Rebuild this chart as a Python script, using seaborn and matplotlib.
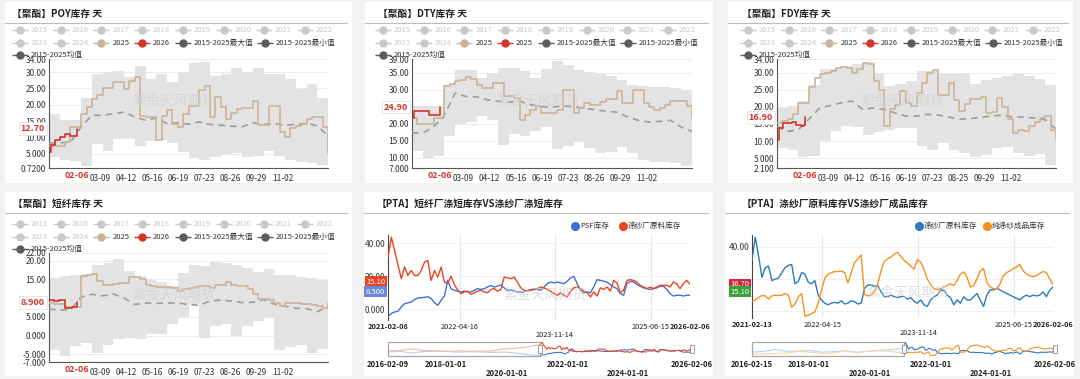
import numpy as np
import pandas as pd
import matplotlib
matplotlib.use('Agg')
import matplotlib.pyplot as plt
import matplotlib.dates as mdates
from matplotlib.patches import Rectangle
import seaborn as sns

# ======================= DATA =======================
# seasonal panels: 2015-2025 envelope / mean (bi-weekly), 2025 (weekly), 2026 (to 02-06)
poy_max = [17.3, 15.3, 15.3, 22.0, 29.4, 30.0, 30.4, 28.5, 31.9, 28.0, 29.5, 27.0, 30.0, 32.9,
           33.1, 28.8, 29.4, 31.4, 29.9, 31.4, 29.5, 29.4, 27.9, 24.9, 26.4, 22.0, 18.8]
poy_min = [4.2, 3.2, 3.0, 1.2, 8.0, 6.0, 9.5, 9.8, 7.3, 9.0, 9.3, 8.5, 5.5, 3.7,
           3.2, 4.2, 5.0, 5.2, 4.0, 4.5, 5.8, 4.5, 3.2, 2.7, 2.2, 1.5, 3.0]
poy_mean = [8.3, 8.5, 8.5, 13.3, 16.8, 16.8, 17.3, 17.8, 16.3, 15.3, 16.0, 14.3, 14.5, 14.1,
            14.8, 14.0, 13.8, 13.5, 13.3, 14.5, 14.0, 14.3, 13.8, 14.0, 14.4, 13.6, 10.5]
poy_2025 = [7.5, 7.3, 7.3, 8.8, 13.3, 13.3, 17.3, 19.3, 21.9, 22.9, 25.2, 25.2, 27.1, 27.1,
            24.9, 27.4, 28.4, 16.5, 16.3, 16.3, 9.3, 16.5, 18.3, 14.3, 13.3, 17.3, 19.8, 19.8,
            24.4, 25.7, 16.3, 22.4, 19.3, 15.8, 17.5, 18.6, 19.1, 19.1, 21.3, 13.8, 13.8, 19.8,
            19.8, 11.8, 10.3, 12.8, 13.5, 14.3, 15.6, 16.3, 16.3, 13.3, 5.0]
poy_2026_dates = ['01-01', '01-03', '01-09', '01-16', '01-22', '01-29', '02-05', '02-06']
poy_2026 = [5.7, 7.8, 9.3, 10.3, 11.1, 10.5, 10.5, 12.7]

dty_max = [25.3, 25.3, 25.3, 31.4, 35.8, 35.8, 33.5, 35.0, 36.3, 36.3, 35.5, 33.5, 36.0, 38.4,
           37.3, 35.8, 35.3, 34.5, 34.0, 32.8, 31.5, 31.0, 30.9, 30.8, 30.5, 29.8, 26.8]
dty_min = [11.9, 9.9, 10.5, 16.3, 19.8, 20.5, 22.3, 21.0, 13.8, 17.0, 16.5, 18.0, 19.0, 12.5,
           13.5, 15.0, 13.0, 11.3, 11.7, 13.2, 11.5, 9.3, 8.8, 8.7, 8.5, 7.6, 10.0]
dty_mean = [17.3, 17.3, 19.0, 22.5, 29.0, 28.0, 27.9, 27.0, 26.6, 26.3, 26.6, 25.6, 25.0, 24.9,
            25.2, 25.0, 24.5, 24.1, 23.7, 23.4, 22.0, 21.0, 20.5, 20.7, 21.0, 19.0, 17.8]
dty_2025 = [21.7, 20.0, 20.0, 20.0, 21.7, 21.7, 31.1, 31.6, 32.4, 32.9, 33.6, 33.0, 31.4, 30.4,
            30.4, 31.9, 31.9, 28.0, 28.0, 27.5, 21.2, 22.7, 24.1, 25.1, 23.1, 23.1, 23.1, 24.1,
            29.8, 30.0, 23.1, 24.5, 26.0, 25.5, 25.6, 26.5, 27.2, 27.2, 29.5, 26.0, 26.0, 30.0,
            30.0, 26.0, 25.0, 24.1, 24.5, 25.5, 26.8, 26.8, 26.8, 25.3, 21.7]
dty_2026_dates = ['01-01', '01-04', '01-23', '02-05', '02-06']
dty_2026 = [21.7, 23.8, 22.6, 22.6, 24.9]

fdy_max = [19.7, 20.2, 21.8, 26.5, 31.0, 31.0, 32.0, 32.5, 33.0, 30.0, 26.0, 26.8, 27.5, 30.5,
           30.5, 29.5, 29.5, 30.0, 26.8, 28.0, 28.5, 29.0, 29.5, 29.0, 28.2, 26.5, 21.7]
fdy_min = [7.9, 7.5, 5.3, 5.5, 10.0, 12.8, 14.3, 14.0, 11.8, 12.5, 13.2, 13.8, 13.8, 8.5,
           7.4, 9.3, 7.4, 6.5, 5.2, 6.0, 8.0, 8.3, 6.5, 5.5, 6.2, 3.0, 5.5]
fdy_mean = [14.3, 12.8, 13.3, 16.5, 19.7, 20.4, 21.2, 21.7, 19.2, 19.7, 19.2, 18.2, 17.3, 17.3,
            17.8, 17.6, 17.0, 16.4, 16.5, 17.0, 17.3, 17.6, 17.0, 17.0, 16.7, 16.2, 13.5]
fdy_2025 = [15.3, 15.8, 16.5, 18.0, 21.2, 21.2, 25.8, 28.5, 29.5, 30.0, 30.5, 31.5, 31.7, 31.5,
            30.0, 31.0, 32.7, 32.5, 27.5, 25.0, 14.3, 19.5, 20.5, 24.6, 21.0, 20.2, 24.0, 27.0,
            30.0, 30.8, 23.6, 23.6, 27.0, 22.0, 18.7, 20.7, 22.4, 22.3, 22.8, 18.2, 18.4, 22.6,
            20.0, 16.3, 12.4, 13.3, 12.8, 14.5, 15.5, 16.8, 17.3, 13.3, 10.4]
fdy_2026_dates = ['01-01', '01-04', '01-09', '01-20', '01-26', '02-01', '02-05', '02-06']
fdy_2026 = [10.4, 13.8, 15.3, 15.5, 14.8, 14.3, 14.8, 16.9]

psf_max = [15.3, 16.0, 16.2, 16.5, 18.8, 19.3, 20.3, 17.2, 16.0, 14.9, 14.2, 13.2, 16.8, 18.8,
           18.6, 19.5, 19.4, 18.8, 18.0, 17.0, 17.7, 16.2, 16.2, 15.7, 15.3, 14.7, 15.3]
psf_min = [-3.7, -5.5, -2.8, -2.0, -4.5, -2.5, -0.8, -0.6, -1.0, 0.5, 0.5, 3.0, 5.0, 8.5,
           -0.5, 2.5, 3.0, -0.2, 2.5, 3.8, 5.1, -3.7, -3.0, -2.5, -4.5, -3.5, -1.0]
psf_mean = [7.1, 6.8, 6.9, 10.3, 11.0, 10.6, 11.1, 10.0, 8.3, 8.7, 8.6, 8.7, 8.7, 8.3,
            8.1, 9.2, 9.5, 9.2, 8.8, 8.9, 9.6, 8.4, 7.8, 7.3, 7.2, 6.4, 7.8]
psf_2025 = [8.7, 8.3, 8.3, 7.6, 7.6, 7.6, 15.8, 16.2, 16.3, 14.5, 13.6, 13.6, 13.8, 13.9,
            14.0, 15.6, 15.5, 15.0, 13.6, 13.2, 12.9, 12.9, 12.9, 12.6, 11.8, 12.3, 12.6, 13.0,
            13.1, 13.1, 12.8, 13.4, 13.6, 14.4, 13.6, 13.2, 13.2, 12.5, 11.0, 9.7, 9.7, 9.5,
            8.8, 7.8, 8.6, 8.6, 8.6, 8.4, 8.3, 8.2, 7.8, 7.3, 8.7]
psf_2026_dates = ['01-01', '01-07', '01-14', '01-22', '01-31', '02-06']
psf_2026 = [9.6, 9.1, 9.6, 7.3, 7.6, 8.9]

season_ticks = ['03-09', '04-12', '05-16', '06-19', '07-23', '08-26', '09-29', '11-02']
season_ticks_fdy = ['03-09', '04-12', '05-16', '06-19', '07-23', '08-25', '09-29', '11-02']

# PTA panel 1: PSF inventory vs yarn-mill PSF inventory (2021-02-08 .. 2026-02-06)
p5_psf = [-4.6, -2.6, -1.6, -1.2, 1.4, 3.4, 3.9, 4.4, 5.9, 6.9, 7.0, 7.2, 7.6, 6.5, 4.0, 2.4,
          5.5, 8.0, 17.5, 12.5, 11.5, 11.0, 10.5, 11.0, 10.5, 10.5, 11.5, 12.5, 12.0, 12.5,
          13.5, 14.5, 13.5, 14.0, 14.8, 13.0, 11.5, 11.8, 11.0, 10.5, 10.5, 10.5, 11.5, 11.8,
          12.5, 12.0, 11.5, 13.5, 15.5, 16.5, 16.0, 16.5, 16.0, 15.5, 17.0, 19.0, 20.0, 15.5,
          11.5, 10.0, 10.5, 10.0, 13.5, 18.0, 17.5, 17.0, 16.5, 15.0, 13.5, 12.5, 9.5, 8.5,
          15.5, 17.0, 16.5, 15.0, 14.0, 13.0, 12.5, 12.0, 12.5, 13.0, 14.0, 14.0, 12.0, 9.5,
          8.0, 8.5, 8.5, 8.0, 8.5, 8.5]
p5_yarn = [31.6, 43.7, 35.5, 27.0, 18.5, 25.6, 20.5, 23.5, 20.5, 20.5, 23.5, 28.6, 29.6, 17.5,
           23.5, 19.5, 25.6, 16.5, 15.5, 20.0, 15.0, 11.5, 9.5, 10.5, 11.0, 9.0, 10.0, 11.0,
           11.5, 10.5, 10.0, 12.0, 12.5, 11.0, 12.0, 19.5, 19.0, 18.5, 19.5, 16.5, 13.0, 11.5,
           11.0, 11.5, 12.0, 12.5, 13.5, 13.0, 12.0, 11.0, 9.5, 8.5, 10.0, 8.5, 7.4, 11.0, 13.0,
           13.5, 12.5, 11.0, 10.0, 7.5, 10.5, 8.0, 13.0, 12.0, 13.5, 11.0, 17.5, 16.0, 10.0,
           11.5, 17.5, 18.0, 17.5, 16.5, 14.5, 13.5, 12.5, 13.5, 12.5, 13.5, 14.5, 14.5, 14.5,
           13.5, 16.5, 15.5, 12.5, 15.5, 17.5, 15.1]
p5_hist_psf = [8, 12, 5, 10, 12, 11, 8, 10, 9, 7, 9, 5, -1, -4]
p5_hist_yarn = [13, 14, 20, 15, 13, 11, 13, 11, 12, 13, 20, 22, 27, 35]

# PTA panel 2: yarn-mill raw material vs finished goods inventory (2021-02-13 .. 2026-02-06)
p6_raw = [31.8, 46.0, 34.0, 21.0, 27.0, 28.0, 19.0, 20.0, 20.5, 24.0, 27.0, 28.5, 29.0, 17.0,
          18.5, 24.0, 23.0, 18.0, 17.0, 19.0, 10.0, 7.0, 5.0, 4.0, 5.0, 5.5, 5.0, 6.5, 4.5, 5.0,
          6.5, 6.0, 4.5, 5.0, 14.0, 16.3, 16.3, 15.5, 16.0, 12.0, 9.1, 9.1, 10.0, 9.1, 8.5, 9.1,
          9.1, 7.5, 8.5, 6.0, 5.0, 7.0, 4.0, 3.0, 7.0, 9.0, 10.0, 13.0, 13.2, 10.0, 8.5, 4.0,
          7.0, 5.0, 9.0, 7.0, 7.0, 9.0, 11.0, 7.0, 3.0, 10.0, 13.2, 13.2, 14.3, 13.2, 12.0,
          11.0, 10.0, 9.0, 8.0, 7.0, 9.0, 10.0, 9.0, 10.0, 9.5, 10.0, 12.0, 9.0, 13.0, 15.1]
p6_goods = [6.0, 7.0, 8.5, 9.8, 9.5, 7.5, 9.5, 10.0, 9.7, 10.0, 11.0, 10.0, 2.5, 4.5, 9.0,
            11.0, -3.0, -2.5, -1.5, -0.5, 5.0, 13.0, 20.5, 23.0, 24.0, 24.6, 24.6, 25.0, 24.0,
            17.4, 24.0, 30.0, 32.5, 34.9, 10.5, 9.5, 10.0, 12.0, 17.0, 25.0, 31.0, 32.5, 33.5,
            35.5, 36.5, 34.0, 31.5, 30.0, 28.0, 26.0, 32.0, 30.5, 26.0, 20.0, 16.5, 14.0, 13.5,
            14.0, 15.0, 16.0, 17.0, 16.0, 19.0, 23.0, 24.5, 21.0, 15.0, 16.0, 20.0, 25.0, 26.5,
            18.0, 15.0, 14.0, 14.0, 17.0, 22.0, 24.0, 25.0, 26.5, 27.5, 29.0, 25.0, 23.0, 22.0,
            21.5, 22.0, 23.5, 24.6, 24.0, 20.0, 16.7]
p6_hist_raw = [10, 13, 20, 13, 14, 16, 10, 12, 15, 10, 14, 17, 19, 25]
p6_hist_goods = [3, 3, 5, 7, 13, 10, 5, 7, 15, 7, 13, 15, 13, 5]

# ======================= STYLE =======================
sns.set_theme(style='white')
plt.rcParams['font.family'] = ['Noto Sans CJK SC', 'DejaVu Sans']
plt.rcParams['axes.unicode_minus'] = False

W, H = 1080, 379
fig = plt.figure(figsize=(10.8, 3.79), dpi=100)
fig.patch.set_facecolor('#f2f2f2')
base = fig.add_axes([0, 0, 1, 1])
base.set_xlim(0, W)
base.set_ylim(H, 0)
base.axis('off')

TAN = '#c9b49a'
RED26 = '#d4332c'
DARK = '#5c5c5c'
INACT = '#c9c9c9'
ENV = '#e3e3e3'
MEANC = '#9c9c9c'
TXT = '#333333'
WM = '紫金天风期货'


def pax(x0, y0, x1, y1):
    a = fig.add_axes([x0 / W, 1 - y1 / H, (x1 - x0) / W, (y1 - y0) / H])
    a.set_facecolor('none')
    return a


def fmt4(v):
    a = abs(v)
    if a >= 10:
        return f'{v:.2f}'
    if a >= 1 or a == 0:
        return f'{v:.3f}'
    return f'{v:.4f}'


def card(x0, y0, x1, y1, title, tx):
    base.add_patch(Rectangle((x0, y0), x1 - x0, y1 - y0, fc='white', ec='none', zorder=0))
    base.text(tx, y0 + 12, title, fontsize=7, fontweight='bold', color='#222222',
              va='center', ha='left', zorder=3)
    base.plot([x0, x1 - 5], [y0 + 21, y0 + 21], color='#bdbdbd', lw=0.8, zorder=3)


def leg_item(mx, y, col, lab, tcol):
    base.plot([mx - 8, mx + 8], [y, y], color=col, lw=1.0, zorder=4, solid_capstyle='butt')
    base.plot([mx], [y], 'o', ms=5, color=col, zorder=5)
    base.text(mx + 11, y, lab, fontsize=5.5, color=tcol, va='center', ha='left', zorder=5)


def season_legend(x0, ys, lbl26):
    for i, lab in enumerate(['2015', '2016', '2017', '2018', '2019', '2020', '2021', '2022']):
        leg_item(x0 + i * 40.7, ys[0], INACT, lab, INACT)
    row2 = [('2023', INACT, INACT, 0), ('2024', INACT, INACT, 40.7), ('2025', TAN, TXT, 81.4),
            (lbl26, RED26, TXT, 122), ('2015-2025最大值', DARK, TXT, 163),
            ('2015-2025最小值', DARK, TXT, 245)]
    for lab, c, tc, dx in row2:
        leg_item(x0 + dx, ys[1], c, lab, tc)
    leg_item(x0, ys[2], DARK, '2015-2025均值', TXT)


def doy(md):
    return np.array([pd.Timestamp('2025-' + m).dayofyear for m in md])


env_days = pd.date_range('2025-01-01', periods=27, freq='14D').dayofyear.values
wk_days = pd.date_range('2025-01-01', periods=53, freq='7D').dayofyear.values


def seasonal(cbox, title, tx, lx, ly, pbox, lim, ticks, hi, lo, mean, y25, d26, y26,
             xt, lbl26='2026'):
    card(*cbox, title, tx)
    season_legend(lx, ly, lbl26)
    ax = pax(*pbox)
    ax.fill_between(env_days, lo, hi, step='post', color=ENV, lw=0, zorder=1)
    sns.lineplot(x=env_days, y=mean, ax=ax, color=MEANC, lw=1.2, linestyle=(0, (4, 3)), zorder=3)
    sns.lineplot(x=wk_days, y=y25, ax=ax, color=TAN, lw=1.2, drawstyle='steps-post', zorder=4)
    sns.lineplot(x=doy(d26), y=y26, ax=ax, color=RED26, lw=1.2, drawstyle='steps-post', zorder=5)
    ax.set_xlim(1, 365)
    ax.set_ylim(*lim)
    v = y26[-1]
    ppu = (pbox[3] - pbox[1]) / (lim[1] - lim[0])
    ax.set_yticks(ticks)
    ax.set_yticklabels(['' if abs(t - v) * ppu < 5 else fmt4(t) for t in ticks])
    ax.set_xticks(doy(xt))
    ax.set_xticklabels(xt)
    ax.tick_params(axis='y', length=0, pad=2, labelsize=6, labelcolor=TXT)
    ax.tick_params(axis='x', length=2, pad=2, labelsize=6, labelcolor=TXT, color='#666666')
    ax.set_xlabel('')
    ax.set_ylabel('')
    for t in ticks:
        ax.axhline(t, color='#e9e9e9', lw=0.6, zorder=0.5)
    for s in ['top', 'right']:
        ax.spines[s].set_visible(False)
    for s in ['left', 'bottom']:
        ax.spines[s].set_color('#555555')
        ax.spines[s].set_linewidth(0.8)
    ax.text(0.45, 0.62, WM, transform=ax.transAxes, fontsize=10, color='#d0d0d0', alpha=0.7,
            ha='center', va='center', zorder=6)
    ax.annotate(fmt4(v), xy=(0, v), xycoords=('axes fraction', 'data'), xytext=(-3, 0),
                textcoords='offset points', ha='right', va='center', color=RED26, fontsize=6.5,
                fontweight='bold', zorder=10, annotation_clip=False,
                bbox=dict(boxstyle='square,pad=0.2', fc='white', ec='#dddddd', lw=0.5))
    ax.annotate(d26[-1], xy=(doy(d26)[-1], 0), xycoords=('data', 'axes fraction'), xytext=(0, -2),
                textcoords='offset points', ha='center', va='top', color=RED26, fontsize=6.5,
                fontweight='bold', zorder=10, annotation_clip=False,
                bbox=dict(boxstyle='square,pad=0.15', fc='white', ec='none'))
    return ax


seasonal((5, 2, 352, 183), '【聚酯】POY库存 天', 12, 20, (30, 43, 55), (49, 59, 328, 168),
         (0.72, 34), [0.72, 5, 10, 15, 20, 25, 30, 34], poy_max, poy_min, poy_mean, poy_2025,
         poy_2026_dates, poy_2026, season_ticks)
seasonal((365, 2, 713, 183), '【聚酯】DTY库存 天', 378, 383, (30, 43, 55), (412, 59, 692, 168),
         (7, 39), [7, 10, 15, 20, 25, 30, 35, 39], dty_max, dty_min, dty_mean, dty_2025,
         dty_2026_dates, dty_2026, season_ticks, lbl26='2025')
seasonal((728, 2, 1073, 183), '【聚酯】FDY库存 天', 742, 748, (30, 43, 55), (777, 59, 1056, 168),
         (2.1, 34), [2.1, 5, 10, 15, 20, 25, 30, 34], fdy_max, fdy_min, fdy_mean, fdy_2025,
         fdy_2026_dates, fdy_2026, season_ticks_fdy)
seasonal((5, 192, 352, 376), '【聚酯】短纤库存 天', 13, 20, (224, 237, 249), (49, 253, 328, 362),
         (-7, 22), [-7, -5, 0, 5, 10, 15, 20, 22], psf_max, psf_min, psf_mean, psf_2025,
         psf_2026_dates, psf_2026, season_ticks)


# ======================= time-series panels =======================
def tspanel(cbox, title, tx, pbox, start, end, hstart, hend, s1, s2, h1, h2, c1, c2, f1, f2,
            names, legx, ylim, yticks, grid_dates, mid_labels, row2_label, boxes, sbox,
            slabels):
    card(*cbox, title, tx)
    base.plot([legx[0]], [226], 'o', ms=5.5, color=c1, zorder=5)
    base.text(legx[0] + 5, 226, names[0], fontsize=5.5, color=TXT, va='center', zorder=5)
    base.plot([legx[1]], [226], 'o', ms=5.5, color=c2, zorder=5)
    base.text(legx[1] + 5, 226, names[1], fontsize=5.5, color=TXT, va='center', zorder=5)

    dates = pd.date_range(start, end, periods=len(s1))
    ax = pax(*pbox)
    for g in grid_dates:
        ax.axvline(pd.Timestamp(g), color='#e6e6e6', lw=0.8, zorder=0.5)
    for t in [0, 20, 40]:
        ax.axhline(t, color='#efefef', lw=0.6, zorder=0.5)
    sns.lineplot(x=dates, y=s1, ax=ax, color=c1, lw=1.0, zorder=3)
    sns.lineplot(x=dates, y=s2, ax=ax, color=c2, lw=1.0, zorder=4)
    ax.set_xlim(dates[0], dates[-1])
    ax.set_ylim(*ylim)
    ppu = (pbox[3] - pbox[1]) / (ylim[1] - ylim[0])
    ax.set_yticks(yticks)
    ax.set_yticklabels(['' if any(abs(t - b[0]) * ppu < 5 for b in boxes) else fmt4(t)
                        for t in yticks])
    ax.tick_params(axis='y', length=0, pad=2, labelsize=6, labelcolor=TXT)
    ax.set_xticks([])
    ax.set_xlabel('')
    ax.set_ylabel('')
    for s in ['top', 'right', 'bottom']:
        ax.spines[s].set_visible(False)
    ax.spines['left'].set_color('#444444')
    ax.spines['left'].set_linewidth(0.8)
    ax.text(0.52, 0.3, WM, transform=ax.transAxes, fontsize=10, color='#d0d0d0', alpha=0.7,
            ha='center', va='center', zorder=6)
    lab_list = [(dates[0], pd.Timestamp(start).strftime('%Y-%m-%d'), 'bold')]
    lab_list += [(pd.Timestamp(d), d, 'normal') for d in mid_labels]
    lab_list += [(dates[-1], pd.Timestamp(end).strftime('%Y-%m-%d'), 'bold')]
    for d, txt, fw in lab_list:
        ax.annotate(txt, xy=(d, 0), xycoords=('data', 'axes fraction'), xytext=(0, -2),
                    textcoords='offset points', ha='center', va='top', fontsize=5.3,
                    fontweight=fw, color='#222222', annotation_clip=False)
    ax.annotate(row2_label, xy=(pd.Timestamp(row2_label), 0), xycoords=('data', 'axes fraction'),
                xytext=(0, -8), textcoords='offset points', ha='center', va='top', fontsize=5.3,
                color='#222222', annotation_clip=False)
    for val, fc, dy in boxes:
        ax.annotate(fmt4(val), xy=(0, val), xycoords=('axes fraction', 'data'), xytext=(-2, dy),
                    textcoords='offset points', ha='right', va='center', color='white',
                    fontsize=5.5, zorder=10, annotation_clip=False,
                    bbox=dict(boxstyle='square,pad=0.2', fc=fc, ec='none'))

    # slider (data zoom)
    hdates = pd.date_range(hstart, hend, periods=len(h1))
    sx = pax(*sbox)
    allv = list(s1) + list(s2) + list(h1) + list(h2)
    sns.lineplot(x=hdates, y=h1, ax=sx, color=f1, lw=0.8, zorder=2)
    sns.lineplot(x=hdates, y=h2, ax=sx, color=f2, lw=0.8, zorder=2)
    sns.lineplot(x=dates, y=s1, ax=sx, color=c1, lw=0.8, zorder=3)
    sns.lineplot(x=dates, y=s2, ax=sx, color=c2, lw=0.8, zorder=4)
    sx.set_xlim(hdates[0], dates[-1])
    sx.set_ylim(min(allv) - 1, max(allv) + 1)
    sx.set_xticks([])
    sx.set_yticks([])
    sx.set_xlabel('')
    sx.set_ylabel('')
    for s in sx.spines.values():
        s.set_visible(False)
    n0 = mdates.date2num(hdates[0])
    n1 = mdates.date2num(dates[-1])
    frac = (mdates.date2num(dates[0]) - n0) / (n1 - n0)
    sx.add_patch(Rectangle((0, 0), frac, 1, transform=sx.transAxes, fill=False, ec='#a8a8a8',
                           lw=0.9, clip_on=False, zorder=5))
    for fx in [frac, 1.0]:
        sx.add_patch(Rectangle((fx - 0.006, 0.22), 0.012, 0.56, transform=sx.transAxes,
                               fc='white', ec='#8a8a8a', lw=0.6, clip_on=False, zorder=6))
    for d, txt, row in slabels:
        fxx = (mdates.date2num(pd.Timestamp(d)) - n0) / (n1 - n0)
        sx.annotate(txt, xy=(fxx, 0), xycoords='axes fraction', xytext=(0, -3 - 6 * row),
                    textcoords='offset points', ha='center', va='top', fontsize=5.5,
                    fontweight='bold', color='#222222', annotation_clip=False)


tspanel((364, 192, 713, 376), '【PTA】短纤厂涤短库存VS涤纱厂涤短库存', 377, (388, 235, 690, 320),
        '2021-02-08', '2026-02-06', '2016-02-09', '2021-02-01', p5_psf, p5_yarn,
        p5_hist_psf, p5_hist_yarn, '#3f6ed6', '#e9461f', '#bccaf0', '#f6b9aa',
        ['PSF库存', '涤纱厂原料库存'], (575, 623), (-6.5, 45), [0, 20, 40],
        ['2022-04-16', '2023-11-14', '2025-06-15'], ['2022-04-16', '2025-06-15'], '2023-11-14',
        [(15.1, '#e9461f', 2), (8.5, '#6688dd', 2.5)], (388, 342, 692, 356),
        [('2016-02-09', '2016-02-09', 0), ('2018-01-01', '2018-01-01', 0),
         ('2020-01-01', '2020-01-01', 1), ('2022-01-01', '2022-01-01', 0),
         ('2024-01-01', '2024-01-01', 1), ('2026-02-06', '2026-02-06', 0)])

tspanel((725, 192, 1074, 376), '【PTA】涤纱厂原料库存VS涤纱厂成品库存', 742, (752, 235, 1053, 318),
        '2021-02-13', '2026-02-06', '2016-02-15', '2021-02-06', p6_raw, p6_goods,
        p6_hist_raw, p6_hist_goods, '#2a7bbd', '#f7901e', '#b9d5ec', '#fbd3aa',
        ['涤纱厂原料库存', '纯涤纱成品库存'], (919, 987), (-4.2, 47.3), [40],
        ['2022-04-15', '2023-11-14', '2025-06-15'], ['2022-04-15', '2025-06-15'], '2023-11-14',
        [(16.7, '#d0263a', 0), (15.1, '#3e9e3e', -3.5)], (752, 342, 1055, 356),
        [('2016-02-15', '2016-02-15', 0), ('2018-01-01', '2018-01-01', 0),
         ('2020-01-01', '2020-01-01', 1), ('2022-01-01', '2022-01-01', 0),
         ('2024-01-01', '2024-01-01', 1), ('2026-02-06', '2026-02-06', 0)])

fig.savefig('out.png', dpi=100, facecolor=fig.get_facecolor())
